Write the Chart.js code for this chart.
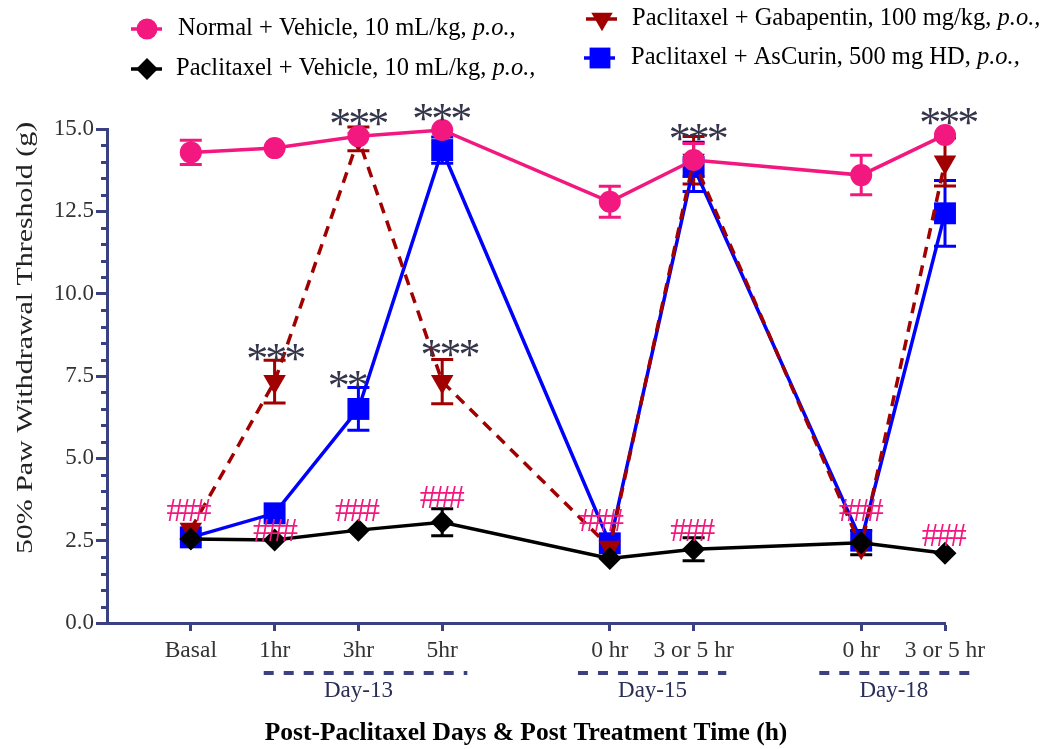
<!DOCTYPE html>
<html>
<head>
<meta charset="utf-8">
<script src="https://cdn.jsdelivr.net/npm/chart.js@4/dist/chart.umd.min.js"></script>
<style>
  html, body { margin: 0; padding: 0; background: #fff; }
  #wrap { width: 1051px; height: 749px; position: relative; }
</style>
</head>
<body>
<div id="wrap"><canvas id="chart"></canvas></div>
<script>
// x positions on a linear scale, gaps mark the day breaks
const xPositions = [0, 1, 2, 3, 5, 6, 8, 9];
const xTickLabels = ["Basal", "1hr", "3hr", "5hr", "0 hr", "3 or 5 hr", "0 hr", "3 or 5 hr"];

const normalMean = [14.29, 14.42, 14.78, 14.97, 12.79, 14.06, 13.6, 14.82];
const normalErr = [0.37, 0, 0, 0, 0.47, 0.5, 0.6, 0];
const vehicleMean = [2.55, 2.52, 2.82, 3.06, 1.96, 2.24, 2.44, 2.12];
const vehicleErr = [0, 0, 0, 0.41, 0, 0.35, 0.37, 0];
const gabaMean = [2.85, 7.33, 14.7, 7.33, 2.3, 14.05, 2.3, 14.0];
const gabaErr = [0, 0.65, 0.36, 0.67, 0, 0.72, 0, 0.73];
const ascurinMean = [2.6, 3.33, 6.5, 14.36, 2.42, 13.85, 2.5, 12.44];
const ascurinErr = [0, 0, 0.65, 0.4, 0, 0.75, 0, 1.0];

// significance marks (x, y in data units)
const starText = ["***", "***", "***", "**", "***", "***", "***"];
const starX = [2.01, 3.0, 1.02, 1.88, 3.1, 6.06, 9.05];
const starY = [15.34, 15.49, 8.2, 7.38, 8.35, 14.88, 15.37];
const hashX = [-0.02, 1.01, 1.99, 3.0, 4.9, 5.99, 8.0, 8.99];
const hashY = [3.43, 2.83, 3.43, 3.82, 3.13, 2.82, 3.43, 2.67];

// day groups under the axis
const dayLabels = ["Day-13", "Day-15", "Day-18"];
const dayFrom = [0.87, 4.62, 7.5];
const dayTo = [3.3, 6.39, 9.29];
const dayCenter = [2.0, 5.51, 8.39];

const PINK = "#f2187f";
const RED = "#a00000";
const BLUE = "#0000ff";
const BLACK = "#000000";
const NAVY = "#3a4180";
const SERIF = "'Liberation Serif', 'Times New Roman', serif";

const toPoints = (means) => means.map((v, i) => ({ x: xPositions[i], y: v }));

const makeSet = (label, means, errs, color, style, radius, extra) => ({
  label,
  data: toPoints(means),
  errs,
  borderColor: color,
  backgroundColor: color,
  borderWidth: 3.5,
  pointStyle: style,
  pointRadius: radius,
  pointHoverRadius: radius,
  pointBorderWidth: 0,
  pointBackgroundColor: color,
  tension: 0,
  clip: false,
  ...extra
});

const datasets = [
  makeSet("Normal + Vehicle", normalMean, normalErr, PINK, "circle", 11, { order: 1 }),
  makeSet("Paclitaxel + Vehicle", vehicleMean, vehicleErr, BLACK, "rectRot", 11.5, { order: 2 }),
  makeSet("Paclitaxel + Gabapentin", gabaMean, gabaErr, RED, "triangle", 13, { order: 3, pointRotation: 180, borderDash: [11, 8] }),
  makeSet("Paclitaxel + AsCurin", ascurinMean, ascurinErr, BLUE, "rect", 15.5, { order: 4 })
];

const legendItems = [
  { ds: 0, x: 147, y: 29, tx: 178, text: "Normal + Vehicle, 10 mL/kg, " },
  { ds: 1, x: 147, y: 69, tx: 176, text: "Paclitaxel + Vehicle, 10 mL/kg, " },
  { ds: 2, x: 602, y: 19, tx: 632, text: "Paclitaxel + Gabapentin, 100 mg/kg, " },
  { ds: 3, x: 600, y: 58, tx: 631, text: "Paclitaxel + AsCurin, 500 mg HD, " }
];

// draws each glyph separately, centred on its ink box
const drawGlyphs = (ctx, text, cx, cy, step) => {
  const m = ctx.measureText(text[0]);
  const off = (m.actualBoundingBoxAscent - m.actualBoundingBoxDescent) / 2;
  const start = cx - (step * (text.length - 1)) / 2;
  for (let i = 0; i < text.length; i++) {
    ctx.fillText(text[i], start + i * step, cy + off);
  }
};

const errorBars = {
  id: "errorBars",
  beforeDatasetsDraw(chart) {
    const { ctx, scales: { x, y } } = chart;
    ctx.save();
    ctx.lineWidth = 3;
    [3, 2, 1, 0].forEach((d) => {
      const ds = chart.data.datasets[d];
      ctx.strokeStyle = ds.borderColor;
      ds.errs.forEach((e, i) => {
        if (!e) return;
        const px = x.getPixelForValue(xPositions[i]);
        const top = y.getPixelForValue(ds.data[i].y + e);
        const bot = y.getPixelForValue(ds.data[i].y - e);
        ctx.beginPath();
        ctx.moveTo(px, top); ctx.lineTo(px, bot);
        ctx.moveTo(px - 11, top); ctx.lineTo(px + 11, top);
        ctx.moveTo(px - 11, bot); ctx.lineTo(px + 11, bot);
        ctx.stroke();
      });
    });
    ctx.restore();
  }
};

const extras = {
  id: "extras",
  afterDraw(chart) {
    const { ctx, scales: { x, y }, chartArea } = chart;
    ctx.save();

    // minor ticks on y
    ctx.strokeStyle = NAVY;
    ctx.lineWidth = 3;
    for (let v = 0.5; v < 15; v += 0.5) {
      if (Math.abs(v % 2.5) < 1e-6) continue;
      const py = Math.round(y.getPixelForValue(v)) + 0.5;
      ctx.beginPath();
      ctx.moveTo(chartArea.left - 6, py);
      ctx.lineTo(chartArea.left, py);
      ctx.stroke();
    }

    // significance marks
    ctx.textAlign = "center";
    ctx.textBaseline = "alphabetic";
    ctx.fillStyle = "#34354a";
    ctx.font = `44px ${SERIF}`;
    starText.forEach((t, i) => {
      drawGlyphs(ctx, t, x.getPixelForValue(starX[i]), y.getPixelForValue(starY[i]), 19);
    });
    ctx.fillStyle = PINK;
    ctx.font = `34px ${SERIF}`;
    hashX.forEach((hx, i) => {
      drawGlyphs(ctx, "###", x.getPixelForValue(hx), y.getPixelForValue(hashY[i]), 14);
    });

    // day groups
    const lineY = 673;
    ctx.strokeStyle = NAVY;
    ctx.lineWidth = 4;
    ctx.setLineDash([10, 10]);
    dayLabels.forEach((lbl, i) => {
      ctx.beginPath();
      ctx.moveTo(x.getPixelForValue(dayFrom[i]), lineY);
      ctx.lineTo(x.getPixelForValue(dayTo[i]), lineY);
      ctx.stroke();
    });
    ctx.setLineDash([]);
    ctx.textBaseline = "middle";
    ctx.fillStyle = "#2a2d55";
    ctx.font = `23px ${SERIF}`;
    dayLabels.forEach((lbl, i) => {
      ctx.fillText(lbl, x.getPixelForValue(dayCenter[i]), 691);
    });

    // y axis title, stretched along its length like the source
    ctx.save();
    ctx.translate(26, 338);
    ctx.rotate(-Math.PI / 2);
    ctx.scale(1.3, 1);
    ctx.fillStyle = "#222";
    ctx.font = `23px ${SERIF}`;
    ctx.fillText("50% Paw Withdrawal Threshold (g)", 0, 0);
    ctx.restore();

    // legend
    ctx.textAlign = "left";
    legendItems.forEach((it) => {
      const ds = chart.data.datasets[it.ds];
      ctx.strokeStyle = ds.borderColor;
      ctx.lineWidth = 3.5;
      ctx.beginPath();
      ctx.moveTo(it.x - 16, it.y);
      ctx.lineTo(it.x + 15, it.y);
      ctx.stroke();
      ctx.fillStyle = ds.borderColor;
      Chart.helpers.drawPoint(ctx, {
        pointStyle: ds.pointStyle,
        radius: ds.pointRadius * 0.95,
        rotation: ds.pointRotation || 0,
        borderWidth: 0
      }, it.x, it.y);
      ctx.fillStyle = "#000";
      ctx.font = `24.5px ${SERIF}`;
      ctx.fillText(it.text, it.tx, it.y);
      const w = ctx.measureText(it.text).width;
      ctx.font = `italic 24.5px ${SERIF}`;
      ctx.fillText("p.o.,", it.tx + w, it.y);
    });

    ctx.restore();
  }
};

new Chart(document.getElementById("chart"), {
  type: "line",
  data: { datasets },
  options: {
    responsive: true,
    maintainAspectRatio: false,
    animation: false,
    layout: { padding: { top: 129, right: 106, left: 0, bottom: 0 } },
    plugins: { legend: { display: false }, tooltip: { enabled: false } },
    scales: {
      x: {
        type: "linear",
        min: -1,
        max: 9,
        afterFit: (s) => { s.height = 126; },
        afterBuildTicks: (s) => { s.ticks = xPositions.map((v) => ({ value: v })); },
        grid: { drawOnChartArea: false, drawTicks: true, tickLength: 8, tickWidth: 3, tickColor: NAVY },
        border: { color: NAVY, width: 3 },
        ticks: {
          autoSkip: false,
          maxRotation: 0,
          padding: 6,
          color: "#333",
          font: { family: SERIF, size: 23.5 },
          callback: (v) => xTickLabels[xPositions.indexOf(v)]
        },
        title: {
          display: true,
          text: "Post-Paclitaxel Days & Post Treatment Time (h)",
          color: "#000",
          font: { family: SERIF, size: 25.5, weight: "bold" },
          padding: { top: 0, bottom: 0 }
        }
      },
      y: {
        min: 0,
        max: 15,
        afterFit: (s) => { s.width = 107; },
        grid: { drawOnChartArea: false, drawTicks: true, tickLength: 11, tickWidth: 3, tickColor: NAVY },
        border: { color: NAVY, width: 3 },
        ticks: {
          stepSize: 2.5,
          padding: 2,
          color: "#333",
          font: { family: SERIF, size: 23 },
          callback: (v) => v.toFixed(1)
        }
      }
    }
  },
  plugins: [errorBars, extras]
});
</script>
</body>
</html>
